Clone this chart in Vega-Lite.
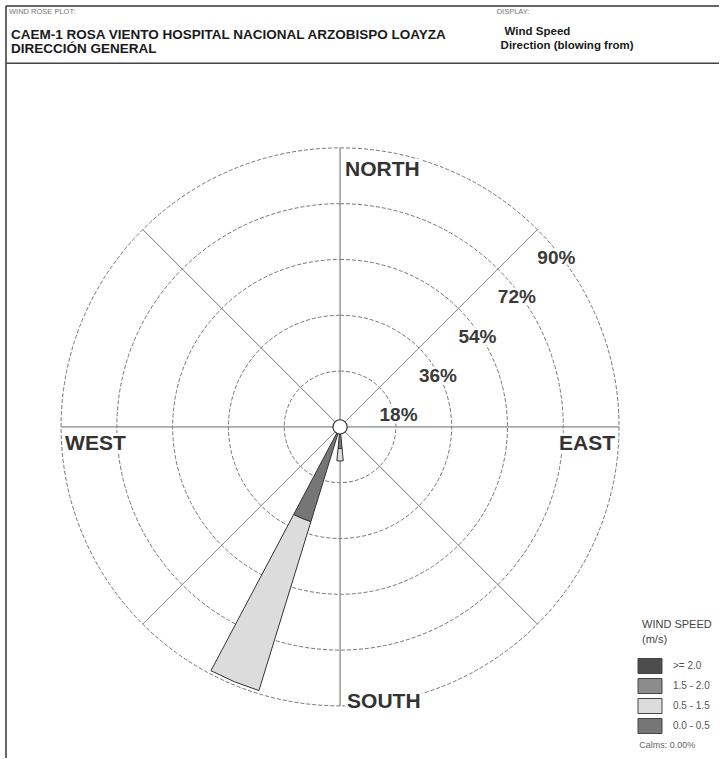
{
  "$schema": "https://vega.github.io/schema/vega-lite/v6.json",
  "width": 720,
  "height": 759,
  "autosize": {"type": "fit", "contains": "padding"},
  "padding": {"left": 5, "top": 5, "right": 0, "bottom": 0},
  "background": "white",
  "config": {"view": {"stroke": null}, "font": "Liberation Sans", "text": {"font": "Liberation Sans"}},
  "data": {"values": [{}]},
  "datasets": {
    "wind": [
      {"dir": "S", "deg": 180, "speed": "0.0 - 0.5", "freq": 7},
      {"dir": "S", "deg": 180, "speed": "0.5 - 1.5", "freq": 4},
      {"dir": "SSW", "deg": 202.5, "speed": "0.0 - 0.5", "freq": 32},
      {"dir": "SSW", "deg": 202.5, "speed": "0.5 - 1.5", "freq": 57}
    ],
    "rings": [
      {"r": 18, "label": "18%"},
      {"r": 36, "label": "36%"},
      {"r": 54, "label": "54%"},
      {"r": 72, "label": "72%"},
      {"r": 90, "label": "90%"}
    ],
    "spokes": [
      {"deg": 0}, {"deg": 45}, {"deg": 90}, {"deg": 135},
      {"deg": 180}, {"deg": 225}, {"deg": 270}, {"deg": 315}
    ]
  },
  "layer": [
    {
      "mark": {"type": "rule", "stroke": "#333", "strokeWidth": 1.5},
      "encoding": {"x": {"datum": -108.06, "type": "quantitative", "scale": {"domain": [-108.06, 122.58], "nice": false, "zero": false}, "axis": null}}
    },
    {
      "mark": {"type": "rule", "stroke": "#333", "strokeWidth": 1.5},
      "encoding": {"y": {"datum": 136.13, "type": "quantitative", "scale": {"domain": [-107.1, 136.13], "nice": false, "zero": false}, "axis": null}}
    },
    {
      "mark": {"type": "rule", "stroke": "#444", "strokeWidth": 1.5},
      "encoding": {"y": {"datum": 117.6, "type": "quantitative", "scale": {"domain": [-107.1, 136.13], "nice": false, "zero": false}, "axis": null}}
    },
    {
      "data": {"name": "rings"},
      "mark": {"type": "arc", "fillOpacity": 0, "stroke": "#666", "strokeWidth": 0.9, "strokeDash": [4, 2]},
      "encoding": {
        "x": {"datum": 0, "type": "quantitative", "scale": {"domain": [-108.06, 122.58], "nice": false, "zero": false}, "axis": null},
        "y": {"datum": 0, "type": "quantitative", "scale": {"domain": [-107.1, 136.13], "nice": false, "zero": false}, "axis": null},
        "theta": {"datum": 0, "type": "quantitative", "scale": {"type": "linear", "domain": [0, 360], "range": [0, 6.283185307179586], "zero": false, "nice": false}},
        "theta2": {"datum": 360},
        "radius": {"field": "r", "type": "quantitative", "stack": null, "scale": {"type": "linear", "domain": [0, 90], "range": [0, 279], "zero": true, "nice": false}}
      }
    },
    {
      "data": {"name": "spokes"},
      "mark": {"type": "arc", "fillOpacity": 0, "stroke": "#888", "strokeWidth": 0.8},
      "encoding": {
        "x": {"datum": 0, "type": "quantitative", "scale": {"domain": [-108.06, 122.58], "nice": false, "zero": false}, "axis": null},
        "y": {"datum": 0, "type": "quantitative", "scale": {"domain": [-107.1, 136.13], "nice": false, "zero": false}, "axis": null},
        "theta": {"field": "deg", "type": "quantitative", "stack": null, "scale": {"type": "linear", "domain": [0, 360], "range": [0, 6.283185307179586], "zero": false, "nice": false}},
        "theta2": {"field": "deg"},
        "radius": {"datum": 90, "type": "quantitative", "scale": {"type": "linear", "domain": [0, 90], "range": [0, 279], "zero": true, "nice": false}},
        "radius2": {"datum": 0}
      }
    },
    {
      "data": {"name": "wind"},
      "transform": [
        {"stack": "freq", "groupby": ["dir"], "sort": [{"field": "speed", "order": "ascending"}], "as": ["r0", "r1"]}
      ],
      "mark": {"type": "arc", "thetaOffset": -0.0942, "theta2Offset": 0.0942, "stroke": "#333", "strokeWidth": 1},
      "encoding": {
        "x": {"datum": 0, "type": "quantitative", "scale": {"domain": [-108.06, 122.58], "nice": false, "zero": false}, "axis": null},
        "y": {"datum": 0, "type": "quantitative", "scale": {"domain": [-107.1, 136.13], "nice": false, "zero": false}, "axis": null},
        "theta": {"field": "deg", "type": "quantitative", "stack": null, "scale": {"type": "linear", "domain": [0, 360], "range": [0, 6.283185307179586], "zero": false, "nice": false}},
        "theta2": {"field": "deg"},
        "radius": {"field": "r1", "type": "quantitative", "stack": null, "scale": {"type": "linear", "domain": [0, 90], "range": [0, 279], "zero": true, "nice": false}},
        "radius2": {"field": "r0"},
        "color": {
          "field": "speed",
          "type": "nominal",
          "scale": {"domain": [">= 2.0", "1.5 - 2.0", "0.5 - 1.5", "0.0 - 0.5"], "range": ["#4d4d4d", "#8c8c8c", "#dcdcdc", "#767676"]},
          "legend": {
            "orient": "none",
            "legendX": 636,
            "legendY": 613,
            "padding": 0,
            "title": ["WIND SPEED", "(m/s)"],
            "titleFont": "Liberation Sans",
            "titleFontSize": 11,
            "titleFontWeight": "normal",
            "titleColor": "#444",
            "titleLineHeight": 15,
            "titlePadding": 13,
            "symbolType": "M-1.6,-1H1.6V1H-1.6Z",
            "symbolSize": 225,
            "symbolStrokeColor": "#444",
            "symbolStrokeWidth": 1,
            "symbolOpacity": 1,
            "labelFont": "Liberation Sans",
            "labelFontSize": 10,
            "labelColor": "#555",
            "labelOffset": 15,
            "rowPadding": 0
          }
        }
      }
    },
    {
      "mark": {"type": "arc", "fill": "white", "stroke": "#333", "strokeWidth": 1.2},
      "encoding": {
        "x": {"datum": 0, "type": "quantitative", "scale": {"domain": [-108.06, 122.58], "nice": false, "zero": false}, "axis": null},
        "y": {"datum": 0, "type": "quantitative", "scale": {"domain": [-107.1, 136.13], "nice": false, "zero": false}, "axis": null},
        "theta": {"datum": 0, "type": "quantitative", "scale": {"type": "linear", "domain": [0, 360], "range": [0, 6.283185307179586], "zero": false, "nice": false}},
        "theta2": {"datum": 360},
        "radius": {"datum": 2.3, "type": "quantitative", "scale": {"type": "linear", "domain": [0, 90], "range": [0, 279], "zero": true, "nice": false}}
      }
    },
    {
      "data": {"name": "rings"},
      "mark": {"type": "text", "fontWeight": "bold", "fontSize": 19, "fill": "white", "stroke": "white", "strokeWidth": 5, "dx": 19, "dy": 28, "align": "center", "baseline": "middle"},
      "encoding": {
        "x": {"datum": 0, "type": "quantitative", "scale": {"domain": [-108.06, 122.58], "nice": false, "zero": false}, "axis": null},
        "y": {"datum": 0, "type": "quantitative", "scale": {"domain": [-107.1, 136.13], "nice": false, "zero": false}, "axis": null},
        "theta": {"datum": 45, "type": "quantitative", "scale": {"type": "linear", "domain": [0, 360], "range": [0, 6.283185307179586], "zero": false, "nice": false}},
        "radius": {"field": "r", "type": "quantitative", "stack": null, "scale": {"type": "linear", "domain": [0, 90], "range": [0, 279], "zero": true, "nice": false}},
        "text": {"field": "label"}
      }
    },
    {
      "data": {"name": "rings"},
      "mark": {"type": "text", "fontWeight": "bold", "fontSize": 19, "fill": "#3a3a3a", "dx": 19, "dy": 28, "align": "center", "baseline": "middle"},
      "encoding": {
        "x": {"datum": 0, "type": "quantitative", "scale": {"domain": [-108.06, 122.58], "nice": false, "zero": false}, "axis": null},
        "y": {"datum": 0, "type": "quantitative", "scale": {"domain": [-107.1, 136.13], "nice": false, "zero": false}, "axis": null},
        "theta": {"datum": 45, "type": "quantitative", "scale": {"type": "linear", "domain": [0, 360], "range": [0, 6.283185307179586], "zero": false, "nice": false}},
        "radius": {"field": "r", "type": "quantitative", "stack": null, "scale": {"type": "linear", "domain": [0, 90], "range": [0, 279], "zero": true, "nice": false}},
        "text": {"field": "label"}
      }
    },
    {
      "mark": {"type": "text", "fontWeight": "bold", "fontSize": 21, "fill": "white", "stroke": "white", "strokeWidth": 6, "align": "left", "baseline": "middle", "dx": 5, "dy": 22},
      "encoding": {
        "x": {"datum": 0, "type": "quantitative", "scale": {"domain": [-108.06, 122.58], "nice": false, "zero": false}, "axis": null},
        "y": {"datum": 0, "type": "quantitative", "scale": {"domain": [-107.1, 136.13], "nice": false, "zero": false}, "axis": null},
        "theta": {"datum": 0, "type": "quantitative", "scale": {"type": "linear", "domain": [0, 360], "range": [0, 6.283185307179586], "zero": false, "nice": false}},
        "radius": {"datum": 90, "type": "quantitative", "scale": {"type": "linear", "domain": [0, 90], "range": [0, 279], "zero": true, "nice": false}},
        "text": {"value": "NORTH"}
      }
    },
    {
      "mark": {"type": "text", "fontWeight": "bold", "fontSize": 21, "fill": "#333", "align": "left", "baseline": "middle", "dx": 5, "dy": 22},
      "encoding": {
        "x": {"datum": 0, "type": "quantitative", "scale": {"domain": [-108.06, 122.58], "nice": false, "zero": false}, "axis": null},
        "y": {"datum": 0, "type": "quantitative", "scale": {"domain": [-107.1, 136.13], "nice": false, "zero": false}, "axis": null},
        "theta": {"datum": 0, "type": "quantitative", "scale": {"type": "linear", "domain": [0, 360], "range": [0, 6.283185307179586], "zero": false, "nice": false}},
        "radius": {"datum": 90, "type": "quantitative", "scale": {"type": "linear", "domain": [0, 90], "range": [0, 279], "zero": true, "nice": false}},
        "text": {"value": "NORTH"}
      }
    },
    {
      "mark": {"type": "text", "fontWeight": "bold", "fontSize": 21, "fill": "white", "stroke": "white", "strokeWidth": 6, "align": "left", "baseline": "middle", "dx": 7, "dy": -4},
      "encoding": {
        "x": {"datum": 0, "type": "quantitative", "scale": {"domain": [-108.06, 122.58], "nice": false, "zero": false}, "axis": null},
        "y": {"datum": 0, "type": "quantitative", "scale": {"domain": [-107.1, 136.13], "nice": false, "zero": false}, "axis": null},
        "theta": {"datum": 180, "type": "quantitative", "scale": {"type": "linear", "domain": [0, 360], "range": [0, 6.283185307179586], "zero": false, "nice": false}},
        "radius": {"datum": 90, "type": "quantitative", "scale": {"type": "linear", "domain": [0, 90], "range": [0, 279], "zero": true, "nice": false}},
        "text": {"value": "SOUTH"}
      }
    },
    {
      "mark": {"type": "text", "fontWeight": "bold", "fontSize": 21, "fill": "#333", "align": "left", "baseline": "middle", "dx": 7, "dy": -4},
      "encoding": {
        "x": {"datum": 0, "type": "quantitative", "scale": {"domain": [-108.06, 122.58], "nice": false, "zero": false}, "axis": null},
        "y": {"datum": 0, "type": "quantitative", "scale": {"domain": [-107.1, 136.13], "nice": false, "zero": false}, "axis": null},
        "theta": {"datum": 180, "type": "quantitative", "scale": {"type": "linear", "domain": [0, 360], "range": [0, 6.283185307179586], "zero": false, "nice": false}},
        "radius": {"datum": 90, "type": "quantitative", "scale": {"type": "linear", "domain": [0, 90], "range": [0, 279], "zero": true, "nice": false}},
        "text": {"value": "SOUTH"}
      }
    },
    {
      "mark": {"type": "text", "fontWeight": "bold", "fontSize": 21, "fill": "white", "stroke": "white", "strokeWidth": 6, "align": "left", "baseline": "middle", "dx": 4, "dy": 17},
      "encoding": {
        "x": {"datum": 0, "type": "quantitative", "scale": {"domain": [-108.06, 122.58], "nice": false, "zero": false}, "axis": null},
        "y": {"datum": 0, "type": "quantitative", "scale": {"domain": [-107.1, 136.13], "nice": false, "zero": false}, "axis": null},
        "theta": {"datum": 270, "type": "quantitative", "scale": {"type": "linear", "domain": [0, 360], "range": [0, 6.283185307179586], "zero": false, "nice": false}},
        "radius": {"datum": 90, "type": "quantitative", "scale": {"type": "linear", "domain": [0, 90], "range": [0, 279], "zero": true, "nice": false}},
        "text": {"value": "WEST"}
      }
    },
    {
      "mark": {"type": "text", "fontWeight": "bold", "fontSize": 21, "fill": "#333", "align": "left", "baseline": "middle", "dx": 4, "dy": 17},
      "encoding": {
        "x": {"datum": 0, "type": "quantitative", "scale": {"domain": [-108.06, 122.58], "nice": false, "zero": false}, "axis": null},
        "y": {"datum": 0, "type": "quantitative", "scale": {"domain": [-107.1, 136.13], "nice": false, "zero": false}, "axis": null},
        "theta": {"datum": 270, "type": "quantitative", "scale": {"type": "linear", "domain": [0, 360], "range": [0, 6.283185307179586], "zero": false, "nice": false}},
        "radius": {"datum": 90, "type": "quantitative", "scale": {"type": "linear", "domain": [0, 90], "range": [0, 279], "zero": true, "nice": false}},
        "text": {"value": "WEST"}
      }
    },
    {
      "mark": {"type": "text", "fontWeight": "bold", "fontSize": 21, "fill": "white", "stroke": "white", "strokeWidth": 6, "align": "right", "baseline": "middle", "dx": -4, "dy": 17},
      "encoding": {
        "x": {"datum": 0, "type": "quantitative", "scale": {"domain": [-108.06, 122.58], "nice": false, "zero": false}, "axis": null},
        "y": {"datum": 0, "type": "quantitative", "scale": {"domain": [-107.1, 136.13], "nice": false, "zero": false}, "axis": null},
        "theta": {"datum": 90, "type": "quantitative", "scale": {"type": "linear", "domain": [0, 360], "range": [0, 6.283185307179586], "zero": false, "nice": false}},
        "radius": {"datum": 90, "type": "quantitative", "scale": {"type": "linear", "domain": [0, 90], "range": [0, 279], "zero": true, "nice": false}},
        "text": {"value": "EAST"}
      }
    },
    {
      "mark": {"type": "text", "fontWeight": "bold", "fontSize": 21, "fill": "#333", "align": "right", "baseline": "middle", "dx": -4, "dy": 17},
      "encoding": {
        "x": {"datum": 0, "type": "quantitative", "scale": {"domain": [-108.06, 122.58], "nice": false, "zero": false}, "axis": null},
        "y": {"datum": 0, "type": "quantitative", "scale": {"domain": [-107.1, 136.13], "nice": false, "zero": false}, "axis": null},
        "theta": {"datum": 90, "type": "quantitative", "scale": {"type": "linear", "domain": [0, 360], "range": [0, 6.283185307179586], "zero": false, "nice": false}},
        "radius": {"datum": 90, "type": "quantitative", "scale": {"type": "linear", "domain": [0, 90], "range": [0, 279], "zero": true, "nice": false}},
        "text": {"value": "EAST"}
      }
    },
    {
      "mark": {"type": "text", "fontSize": 7.5, "fill": "#777", "align": "left", "baseline": "middle"},
      "encoding": {
        "x": {"datum": -107.09, "type": "quantitative", "scale": {"domain": [-108.06, 122.58], "nice": false, "zero": false}, "axis": null},
        "y": {"datum": 134.2, "type": "quantitative", "scale": {"domain": [-107.1, 136.13], "nice": false, "zero": false}, "axis": null},
        "text": {"value": "WIND ROSE PLOT:"}
      }
    },
    {
      "mark": {"type": "text", "fontSize": 13.5, "fontWeight": "bold", "fill": "#1a1a1a", "align": "left", "baseline": "alphabetic"},
      "encoding": {
        "x": {"datum": -106.45, "type": "quantitative", "scale": {"domain": [-108.06, 122.58], "nice": false, "zero": false}, "axis": null},
        "y": {"datum": 125.49, "type": "quantitative", "scale": {"domain": [-107.1, 136.13], "nice": false, "zero": false}, "axis": null},
        "text": {"value": "CAEM-1 ROSA VIENTO HOSPITAL NACIONAL ARZOBISPO LOAYZA"}
      }
    },
    {
      "mark": {"type": "text", "fontSize": 13.5, "fontWeight": "bold", "fill": "#1a1a1a", "align": "left", "baseline": "alphabetic"},
      "encoding": {
        "x": {"datum": -106.45, "type": "quantitative", "scale": {"domain": [-108.06, 122.58], "nice": false, "zero": false}, "axis": null},
        "y": {"datum": 120.97, "type": "quantitative", "scale": {"domain": [-107.1, 136.13], "nice": false, "zero": false}, "axis": null},
        "text": {"value": "DIRECCIÓN GENERAL"}
      }
    },
    {
      "mark": {"type": "text", "fontSize": 7.5, "fill": "#777", "align": "left", "baseline": "middle"},
      "encoding": {
        "x": {"datum": 50.65, "type": "quantitative", "scale": {"domain": [-108.06, 122.58], "nice": false, "zero": false}, "axis": null},
        "y": {"datum": 134.2, "type": "quantitative", "scale": {"domain": [-107.1, 136.13], "nice": false, "zero": false}, "axis": null},
        "text": {"value": "DISPLAY:"}
      }
    },
    {
      "mark": {"type": "text", "fontSize": 11.5, "fontWeight": "bold", "fill": "#1a1a1a", "align": "left", "baseline": "alphabetic"},
      "encoding": {
        "x": {"datum": 53.23, "type": "quantitative", "scale": {"domain": [-108.06, 122.58], "nice": false, "zero": false}, "axis": null},
        "y": {"datum": 126.77, "type": "quantitative", "scale": {"domain": [-107.1, 136.13], "nice": false, "zero": false}, "axis": null},
        "text": {"value": "Wind Speed"}
      }
    },
    {
      "mark": {"type": "text", "fontSize": 11.5, "fontWeight": "bold", "fill": "#1a1a1a", "align": "left", "baseline": "alphabetic"},
      "encoding": {
        "x": {"datum": 51.94, "type": "quantitative", "scale": {"domain": [-108.06, 122.58], "nice": false, "zero": false}, "axis": null},
        "y": {"datum": 122.26, "type": "quantitative", "scale": {"domain": [-107.1, 136.13], "nice": false, "zero": false}, "axis": null},
        "text": {"value": "Direction (blowing from)"}
      }
    },
    {
      "mark": {"type": "text", "fontSize": 9, "fill": "#666", "align": "left", "baseline": "middle"},
      "encoding": {
        "x": {"datum": 96.77, "type": "quantitative", "scale": {"domain": [-108.06, 122.58], "nice": false, "zero": false}, "axis": null},
        "y": {"datum": -102.9, "type": "quantitative", "scale": {"domain": [-107.1, 136.13], "nice": false, "zero": false}, "axis": null},
        "text": {"value": "Calms: 0.00%"}
      }
    }
  ]
}
